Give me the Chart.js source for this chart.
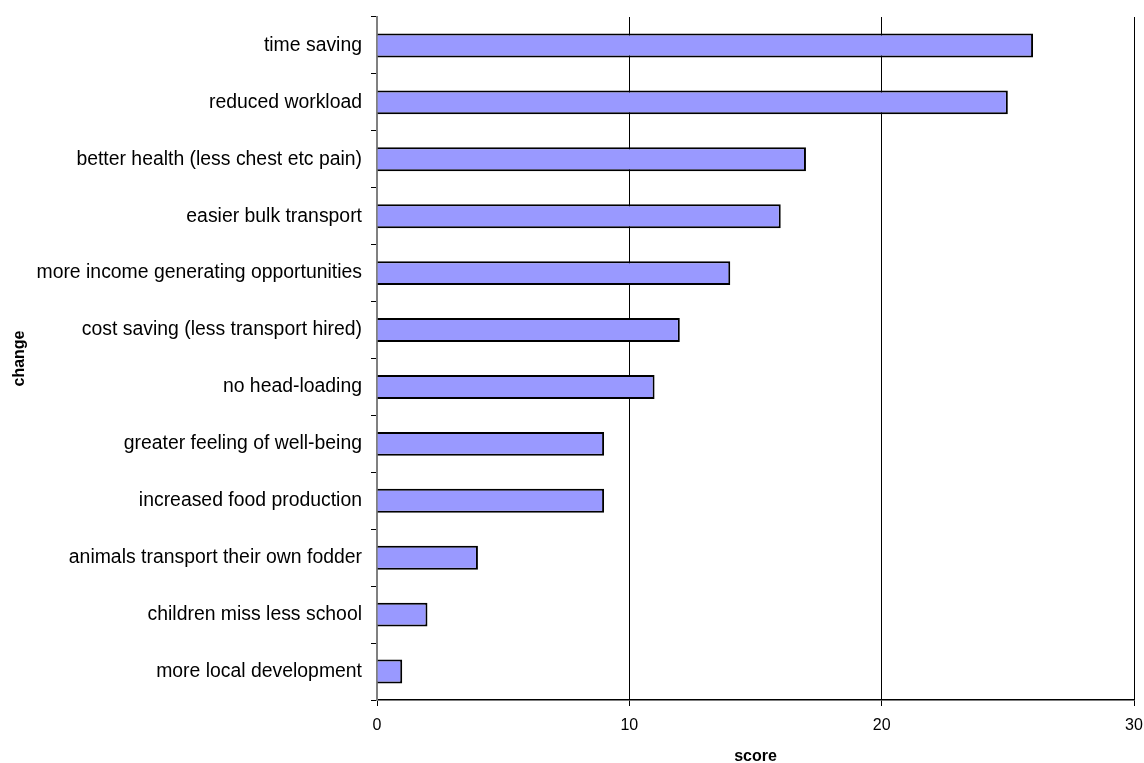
<!DOCTYPE html>
<html>
<head>
<meta charset="utf-8">
<script src="https://cdn.jsdelivr.net/npm/chart.js@4/dist/chart.umd.min.js"></script>
<style>
html,body{margin:0;padding:0;background:#fff;}
#wrap{width:1144px;height:763px;position:relative;}
</style>
</head>
<body>
<div id="wrap"><canvas id="c" width="1144" height="763"></canvas></div>
<script>
const categories = [
  "time saving",
  "reduced workload",
  "better health (less chest etc pain)",
  "easier bulk transport",
  "more income generating opportunities",
  "cost saving (less transport hired)",
  "no head-loading",
  "greater feeling of well-being",
  "increased food production",
  "animals transport their own fodder",
  "children miss less school",
  "more local development"
];
const scores = [26, 25, 17, 16, 14, 12, 11, 9, 9, 4, 2, 1];
const xTicks = [0, 10, 20, 30];
const xTitle = "score";
const yTitle = "change";

const FONT = 'Liberation Sans, Arial, sans-serif';

new Chart(document.getElementById('c'), {
  type: 'bar',
  data: {
    labels: categories,
    datasets: [{
      data: scores,
      backgroundColor: '#9999FF',
      borderColor: '#000000',
      borderWidth: 2,
      barPercentage: 0.42,
      categoryPercentage: 1.0
    }]
  },
  options: {
    indexAxis: 'y',
    responsive: false,
    animation: false,
    layout: { padding: { top: 17, right: 0, left: 0, bottom: 0 } },
    plugins: { legend: { display: false }, tooltip: { enabled: false } },
    scales: {
      x: {
        min: 0, max: 30,
        afterBuildTicks: s => { s.ticks = xTicks.map(v => ({ value: v })); },
        afterFit: s => { s.height = 63; s.paddingRight = 10; },
        grid: {
          color: ctx => (ctx.tick && ctx.tick.value === 0) ? 'rgba(0,0,0,0)' : '#000000',
          tickColor: '#000000',
          tickLength: 6,
          lineWidth: 1
        },
        border: { color: '#000000', width: 1.5 },
        ticks: { color: '#000', font: { family: FONT, size: 16 }, padding: 10 },
        title: { display: true, text: xTitle, color: '#000', font: { family: FONT, size: 16, weight: 'bold' }, padding: { top: 0, bottom: -3 } }
      },
      y: {
        afterFit: s => { s.width = 377; s.paddingTop = 0; s.paddingBottom = 0; },
        grid: { drawOnChartArea: false, tickColor: '#000000', tickLength: 6, offset: true },
        border: { color: '#808080', width: 2 },
        ticks: { color: '#000', font: { family: FONT, size: 19.4 }, padding: 9 },
        title: { display: true, text: yTitle, color: '#000', font: { family: FONT, size: 16, weight: 'bold' }, padding: { top: 10, bottom: 0 } }
      }
    }
  }
});
</script>
</body>
</html>
